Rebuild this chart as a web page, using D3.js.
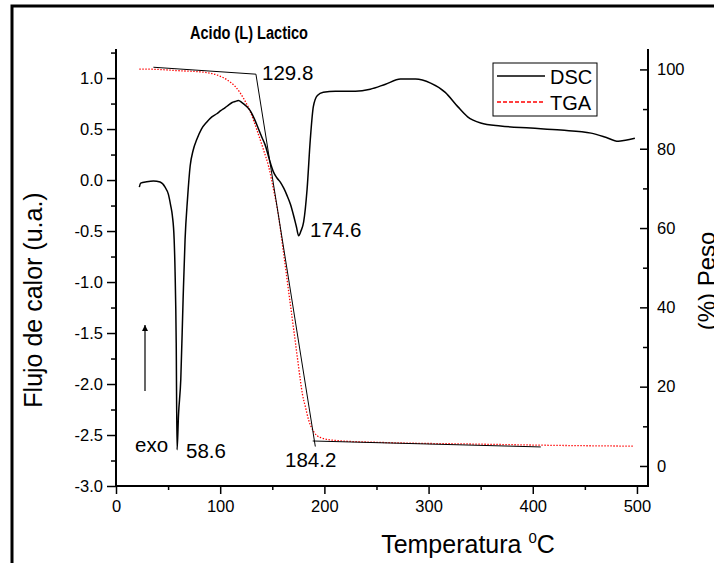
<!DOCTYPE html>
<html>
<head>
<meta charset="utf-8">
<script src="https://cdn.jsdelivr.net/npm/d3@7"></script>
<style>
  body { margin: 0; background: #fff; }
  text { font-family: "Liberation Sans", Arial, sans-serif; fill: #000; }
</style>
</head>
<body>
<div class="data_figure"></div>
<script>
// DSC curve (left axis, u.a.)
const dscTemp = [22.4, 23.7, 29.5, 35.9, 42.3, 47.1, 50.3, 52.5, 54.1, 55.8, 56.7, 57.8, 58.6, 60.0, 62.2, 64.4, 66.3, 68.6, 71.2, 74, 77.6, 82, 87.2, 92, 96.8, 100.5, 104.8, 108.5, 111.5, 114.4, 117.5, 120.9, 124.5, 128.8, 132.8, 136.8, 140, 143.3, 148.1, 151.3, 154.5, 157.7, 161, 164.1, 167.5, 170.5, 173.2, 175.3, 177.5, 180.1, 183.4, 186.5, 189.4, 193.3, 199, 210.6, 229.8, 244, 258.7, 273, 287.5, 302, 316, 328, 337.5, 350, 369, 398, 427, 456, 470, 482, 489, 498];
const dscFlow = [-0.07, -0.03, -0.017, -0.01, -0.02, -0.07, -0.14, -0.25, -0.35, -0.58, -0.90, -1.6, -2.645, -2.3, -1.95, -1.17, -0.58, -0.19, 0.14, 0.29, 0.40, 0.50, 0.57, 0.62, 0.65, 0.68, 0.71, 0.74, 0.76, 0.77, 0.78, 0.76, 0.73, 0.68, 0.60, 0.50, 0.42, 0.34, 0.17, 0.075, 0.02, -0.02, -0.08, -0.15, -0.24, -0.35, -0.46, -0.546, -0.5, -0.41, -0.09, 0.40, 0.72, 0.83, 0.86, 0.87, 0.87, 0.89, 0.94, 0.99, 0.99, 0.95, 0.86, 0.72, 0.62, 0.56, 0.53, 0.51, 0.49, 0.46, 0.42, 0.38, 0.39, 0.41];

// TGA curve (right axis, % peso)
const tgaTemp = [22.4, 40, 58.3, 84, 96.8, 106.4, 114.4, 122.4, 128.8, 135.3, 141.6, 146.5, 151.3, 154.5, 160.9, 165, 170, 174, 176.9, 179, 181.7, 185, 189.7, 196, 212, 260, 350, 420, 497];
const tgaPeso = [100.1, 100.0, 99.7, 99.3, 98.6, 97.4, 95.7, 92.7, 89.4, 84.7, 79.7, 75.5, 69.6, 65.4, 53.6, 45.4, 35.5, 27.5, 21.7, 18, 15, 11.5, 8.7, 7.2, 6.4, 5.9, 5.5, 5.2, 5.0];

// tangent construction lines on the TGA (temperature, peso)
const tangentLines = [
    [[35.9, 100.55], [134.3, 98.8]],
    [[134.3, 98.8], [191.3, 4.9]],
    [[188.8, 6.3], [407.7, 4.8]]
];

// peak annotations
const annoText = ["129.8", "174.6", "58.6", "184.2"];

// ticks
const xMajor = [0, 100, 200, 300, 400, 500];
const xMinor = [50, 150, 250, 350, 450];
const yLeftMajor = [-3.0, -2.5, -2.0, -1.5, -1.0, -0.5, 0.0, 0.5, 1.0];
const yLeftMinor = [-2.75, -2.25, -1.75, -1.25, -0.75, -0.25, 0.25, 0.75, 1.25];
const yRightMajor = [0, 20, 40, 60, 80, 100];
const yRightMinor = [10, 30, 50, 70, 90];

const widthMax = 714, heightMax = 563;
const plot = { left: 116, right: 648, top: 49, bottom: 486 };

const svg = d3.select(".data_figure")
    .append("svg")
    .attr("width", widthMax)
    .attr("height", heightMax);

// outer frame
svg.append("rect")
    .attr("x", 12).attr("y", 6)
    .attr("width", 740).attr("height", 620)
    .attr("fill", "none").attr("stroke", "#000").attr("stroke-width", 3);

const x = d3.scaleLinear().domain([0, 510.6]).range([plot.left, plot.right]);
const yL = d3.scaleLinear().domain([-3, 1.285]).range([plot.bottom, plot.top]);
const yR = d3.scaleLinear().domain([-5.05, 105.15]).range([plot.bottom, plot.top]);

function styleAxis(g, fontSize) {
    g.select(".domain").remove();
    g.selectAll(".tick line").attr("stroke", "#000").attr("stroke-width", 1.5);
    g.selectAll(".tick text")
        .style("font-family", "'Liberation Sans', Arial, sans-serif")
        .style("font-size", fontSize + "px")
        .attr("fill", "#000");
}

// x axis
svg.append("g").attr("transform", "translate(0," + plot.bottom + ")")
    .call(d3.axisBottom(x).tickValues(xMajor).tickFormat(d3.format("d")).tickSize(8).tickPadding(6))
    .call(g => styleAxis(g, 16.5));
svg.append("g").attr("transform", "translate(0," + plot.bottom + ")")
    .call(d3.axisBottom(x).tickValues(xMinor).tickFormat("").tickSize(4))
    .call(g => styleAxis(g, 16.5));

// left axis
svg.append("g").attr("transform", "translate(" + plot.left + ",0)")
    .call(d3.axisLeft(yL).tickValues(yLeftMajor).tickFormat(d3.format(".1f")).tickSize(9).tickPadding(4))
    .call(g => styleAxis(g, 16.5))
    .call(g => g.selectAll(".tick text").text(d => d3.format(".1f")(d).replace("−", "-")));
svg.append("g").attr("transform", "translate(" + plot.left + ",0)")
    .call(d3.axisLeft(yL).tickValues(yLeftMinor).tickFormat("").tickSize(5))
    .call(g => styleAxis(g, 16.5));

// right axis (ticks point inward)
svg.append("g").attr("transform", "translate(" + plot.right + ",0)")
    .call(d3.axisRight(yR).tickValues(yRightMajor).tickFormat(d3.format("d")).tickSize(-8).tickPadding(9))
    .call(g => styleAxis(g, 16.5));
svg.append("g").attr("transform", "translate(" + plot.right + ",0)")
    .call(d3.axisRight(yR).tickValues(yRightMinor).tickFormat("").tickSize(-5))
    .call(g => styleAxis(g, 16.5));

// axis lines (left, bottom, right)
svg.append("path")
    .attr("d", "M" + plot.left + "," + plot.top + "V" + plot.bottom + "H" + plot.right + "V" + plot.top)
    .attr("fill", "none").attr("stroke", "#000").attr("stroke-width", 2);

// curves
const dscLine = d3.line()
    .x(d => x(d[0])).y(d => yL(d[1]))
    .curve(d3.curveMonotoneX);
const tgaLine = d3.line()
    .x(d => x(d[0])).y(d => yR(d[1]))
    .curve(d3.curveMonotoneX);

svg.append("path")
    .datum(d3.zip(tgaTemp, tgaPeso))
    .attr("d", tgaLine)
    .attr("fill", "none").attr("stroke", "#ff0000")
    .attr("stroke-width", 1.3).attr("stroke-dasharray", "1.4,1.6");

svg.append("path")
    .datum(d3.zip(dscTemp, dscFlow))
    .attr("d", dscLine)
    .attr("fill", "none").attr("stroke", "#000").attr("stroke-width", 1.5);

svg.append("g").selectAll("path")
    .data(tangentLines)
    .enter()
        .append("path")
        .attr("d", d3.line().x(d => x(d[0])).y(d => yR(d[1])))
        .attr("fill", "none").attr("stroke", "#000").attr("stroke-width", 1);

// exo arrow
svg.append("defs").append("marker")
    .attr("id", "arrowhead")
    .attr("viewBox", "0 0 10 10")
    .attr("refX", 10).attr("refY", 5)
    .attr("markerWidth", 12).attr("markerHeight", 6)
    .attr("markerUnits", "userSpaceOnUse")
    .attr("orient", "auto")
    .append("path").attr("d", "M0,0L10,5L0,10Z").attr("fill", "#000");
svg.append("line")
    .attr("x1", 145).attr("y1", 391)
    .attr("x2", 145).attr("y2", 325)
    .attr("stroke", "#000").attr("stroke-width", 1.2)
    .attr("marker-end", "url(#arrowhead)");

// annotations
const annoPos = [[262, 80], [310, 237], [186, 458], [285, 467]];
svg.append("g").selectAll("text")
    .data(annoText)
    .enter()
        .append("text")
        .text(d => d)
        .attr("x", (d, i) => annoPos[i][0])
        .attr("y", (d, i) => annoPos[i][1])
        .style("font-size", "20.5px");
svg.append("text").text("exo")
    .attr("x", 135).attr("y", 452)
    .style("font-size", "20.5px");

// title (condensed bold)
svg.append("text")
    .text("Acido (L) Lactico")
    .attr("x", 190).attr("y", 39)
    .attr("textLength", 118)
    .attr("lengthAdjust", "spacingAndGlyphs")
    .style("font-weight", "bold")
    .style("font-size", "18px");

// axis titles
svg.append("text")
    .text("Flujo de calor (u.a.)")
    .attr("transform", "translate(42,300) rotate(-90)")
    .attr("text-anchor", "middle")
    .style("font-size", "25px");

svg.append("text")
    .text("(%) Peso")
    .attr("transform", "translate(715,281) rotate(-90)")
    .attr("text-anchor", "middle")
    .style("font-size", "24px");

const xTitle = svg.append("text")
    .attr("x", 468).attr("y", 553)
    .attr("text-anchor", "middle")
    .style("font-size", "25px");
xTitle.append("tspan").text("Temperatura ");
xTitle.append("tspan").text("0").style("font-size", "15px").attr("dy", -10);
xTitle.append("tspan").text("C").attr("dy", 10);

// legend
const legend = svg.append("g").attr("id", "legend");
legend.append("rect")
    .attr("x", 493).attr("y", 63)
    .attr("width", 104).attr("height", 53)
    .attr("fill", "#fff").attr("stroke", "#000").attr("stroke-width", 1);
const legendItems = [
    { name: "DSC", color: "#000", dash: null, y: 76 },
    { name: "TGA", color: "#ff0000", dash: "4,2", y: 102 }
];
legend.selectAll("line")
    .data(legendItems)
    .enter()
        .append("line")
        .attr("x1", 497).attr("x2", 545)
        .attr("y1", d => d.y).attr("y2", d => d.y)
        .attr("stroke", d => d.color)
        .attr("stroke-width", 1.3)
        .attr("stroke-dasharray", d => d.dash);
legend.selectAll("text")
    .data(legendItems)
    .enter()
        .append("text")
        .text(d => d.name)
        .attr("x", 550)
        .attr("y", d => d.y + 8)
        .style("font-size", "20px");
</script>
</body>
</html>
